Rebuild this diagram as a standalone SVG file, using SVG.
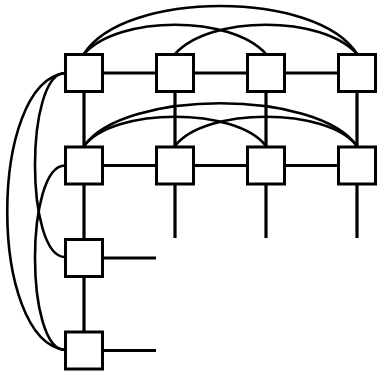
<svg xmlns="http://www.w3.org/2000/svg" width="379" height="373" viewBox="0 0 379 373">
<style>
.ln{stroke:#000;stroke-width:3.2;fill:none}
.arc{stroke:#000;stroke-width:2.6;fill:none}
.box{fill:#fff;stroke:#000;stroke-width:3}
</style>
<rect width="379" height="373" fill="#fff"/>
<g id="connectors">
<path class="ln" d="M84 73H357M84 165.5H357M84 73V350.5M175 73V238M266 73V238M357 73V238M84 258H156M84 350.5H156"/>
<path class="arc" d="M84 54C124 -10 317 -10 357 54"/>
<path class="arc" d="M84 54C119 15 231 15 266 54"/>
<path class="arc" d="M175 54C210 15 322 15 357 54"/>
<path class="arc" d="M84 146C124 89 317 89 357 146"/>
<path class="arc" d="M84 146C114 107 236 107 266 146"/>
<path class="arc" d="M175 146C205 107 327 107 357 146"/>
<path class="arc" d="M65 73C-12 83 -12 340 65 350"/>
<path class="arc" d="M65 73C25 73 25 257 65 257"/>
<path class="arc" d="M65 165.5C25 165.5 25 350 65 350"/>
</g>
<g id="n11"><rect class="box" x="65.5" y="54.5" width="37" height="37"/></g>
<g id="n12"><rect class="box" x="156.5" y="54.5" width="37" height="37"/></g>
<g id="n13"><rect class="box" x="247.5" y="54.5" width="37" height="37"/></g>
<g id="n14"><rect class="box" x="338.5" y="54.5" width="37" height="37"/></g>
<g id="n21"><rect class="box" x="65.5" y="147" width="37" height="37"/></g>
<g id="n22"><rect class="box" x="156.5" y="147" width="37" height="37"/></g>
<g id="n23"><rect class="box" x="247.5" y="147" width="37" height="37"/></g>
<g id="n24"><rect class="box" x="338.5" y="147" width="37" height="37"/></g>
<g id="n31"><rect class="box" x="65.5" y="239.5" width="37" height="37"/></g>
<g id="n41"><rect class="box" x="65.5" y="332" width="37" height="37"/></g>
</svg>
